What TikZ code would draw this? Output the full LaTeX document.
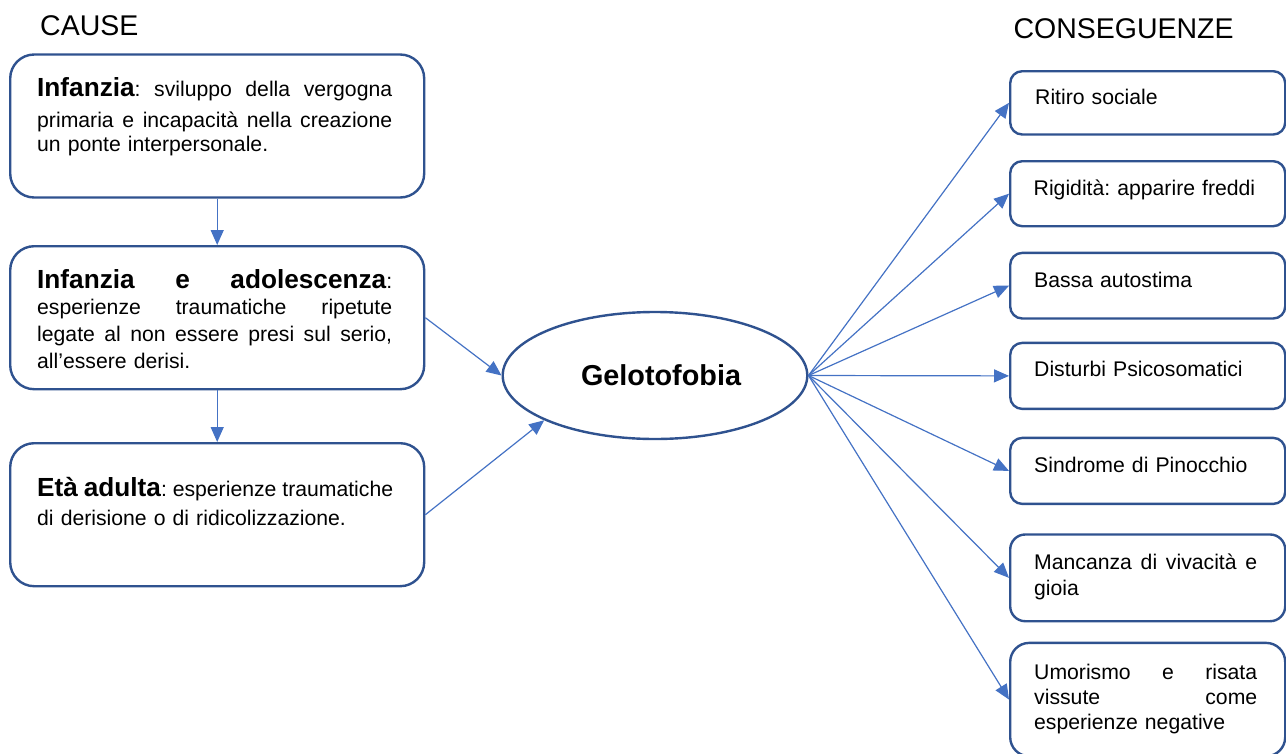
\documentclass[tikz,border=0pt]{standalone}
\usepackage{fontspec}
\setmainfont{Liberation Sans}
\usetikzlibrary{arrows.meta,shapes.geometric}
\definecolor{boxline}{HTML}{2F528F}
\definecolor{arrowline}{HTML}{4472C4}
\frenchspacing
% bold lead-in of each cause
\newcommand{\lead}[1]{{\fontsize{26.2}{30}\selectfont\bfseries #1}}
% a justified line: the word spaces share out the free room evenly
\newcommand{\jline}[2]{\leavevmode\hbox to #1{\spaceskip=0.278em plus 1fil\relax #2}}

\begin{document}
\begin{tikzpicture}[x=1pt,y=-1pt,
  causebox/.style={draw=boxline, line width=2.4pt, rounded corners=24pt,
    minimum width=414pt, minimum height=143pt, inner sep=0pt, anchor=north west},
  effbox/.style={draw=boxline, line width=2.4pt, rounded corners=12pt,
    minimum width=275pt, inner sep=0pt, anchor=north west},
  bodytext/.style={font=\fontsize{21.2}{24}\selectfont, inner sep=0pt,
    anchor=base west, align=left},
  causetext/.style={bodytext, text width=355pt},
  efftext/.style={bodytext, text width=223pt},
  heading/.style={font=\fontsize{28.5}{34}\selectfont, inner sep=0pt, anchor=base west},
  link/.style={draw=arrowline, line width=1.2pt, -{Triangle[length=15pt,width=13pt]}}]

\useasboundingbox (0,0) rectangle (1286,753);
\clip (0,0) rectangle (1286,753);

% column titles
\node[heading] (tcause) at (40,35) {CAUSE};
\node[heading] (tcons) at (1013.3,38.3) {CONSEGUENZE};

% causes
\node[causebox] (c1) at (9,53.3) {};
\node[causebox] (c2) at (9,245) {};
\node[causebox] (c3) at (9,442) {};

\node[causetext] (c1t) at (37,96.7) {%
  \jline{355pt}{\lead{Infanzia}: sviluppo della vergogna}\\[6.6pt]
  \jline{355pt}{primaria e incapacità nella creazione}\\
  un ponte interpersonale.};
\node[causetext, font=\fontsize{21.2}{26.6}\selectfont] (c2t) at (37,288.3) {%
  \jline{355pt}{\lead{Infanzia e adolescenza}:}\\
  \jline{355pt}{esperienze traumatiche ripetute}\\
  \jline{355pt}{legate al non essere presi sul serio,}\\
  all’essere derisi.};
\node[causetext, font=\fontsize{21.2}{29}\selectfont] (c3t) at (37,496.7) {%
  \jline{355pt}{\lead{Età adulta}: esperienze traumatiche}\\
  di derisione o di ridicolizzazione.};

% central node
\node[draw=boxline, line width=2.4pt, ellipse, minimum width=304.6pt,
  minimum height=127pt, inner sep=0pt,
  font=\fontsize{28.8}{34}\selectfont\bfseries] (gel) at (655,375.5) {\hspace*{12pt}Gelotofobia};

% consequences
\node[effbox, minimum height=63.3pt] (r1) at (1009,70) {};
\node[effbox, minimum height=65pt] (r2) at (1009,160) {};
\node[effbox, minimum height=65.6pt] (r3) at (1009,251.7) {};
\node[effbox, minimum height=66pt] (r4) at (1009,341.7) {};
\node[effbox, minimum height=66pt] (r5) at (1009,436.7) {};
\node[effbox, minimum height=86.7pt, rounded corners=15pt] (r6) at (1009,533.3) {};
\node[effbox, minimum height=113.3pt, rounded corners=19pt] (r7) at (1009,641.7) {};

\node[efftext] (r1t) at (1035,104) {Ritiro sociale};
\node[efftext] (r2t) at (1033.5,195) {Rigidità: apparire freddi};
\node[efftext] (r3t) at (1034,287.3) {Bassa autostima};
\node[efftext] (r4t) at (1034,376.7) {Disturbi Psicosomatici};
\node[efftext] (r5t) at (1034,472.3) {Sindrome di Pinocchio};
\node[efftext, font=\fontsize{21.2}{26.7}\selectfont] (r6t) at (1034,569) {%
  \jline{223pt}{Mancanza di vivacità e}\\
  gioia};
\node[efftext, font=\fontsize{21.2}{25.2}\selectfont] (r7t) at (1034,679) {%
  \jline{223pt}{Umorismo e risata}\\
  \jline{223pt}{vissute come}\\
  esperienze negative};

% connectors
\draw[link] (c1.south) -- (c2.north);
\draw[link] (c2.south) -- (c3.north);
\draw[link] (c2.east) -- (gel.west);
\draw[link] (c3.east) -- (gel.202);
\foreach \r in {r1,r2,r3,r4,r5,r6,r7}
  \draw[link] (gel.east) -- (\r.west);
\end{tikzpicture}
\end{document}
